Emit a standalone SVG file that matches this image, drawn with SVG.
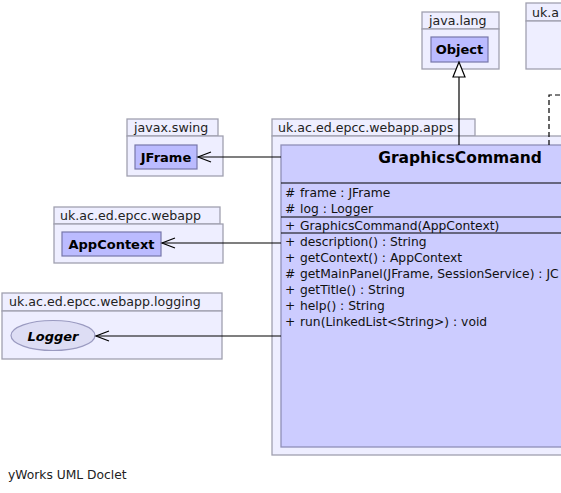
<svg xmlns="http://www.w3.org/2000/svg" width="561" height="493" viewBox="0 0 561 493">
<style>
.pkg{fill:#eeeeff;stroke:#a0a0b0;stroke-width:1.3}
.cls{fill:#bbbbff;stroke:#7777aa;stroke-width:1.2}
.big{fill:#ccccff;stroke:#9090b8;stroke-width:1.3}
.pl{font-family:"DejaVu Sans",sans-serif;font-size:12.6px;fill:#222}
.cn{font-family:"DejaVu Sans",sans-serif;font-size:13px;font-weight:bold;fill:#000;text-anchor:middle}
.mb{font-family:"DejaVu Sans",sans-serif;font-size:12.3px;fill:#111}
.ln{stroke:#000;stroke-width:1.2;fill:none}
</style>
<rect width="561" height="493" fill="#fff"/>
<g id="pkg-java-lang">
<rect class="pkg" x="422" y="12" width="77" height="17"/>
<rect class="pkg" x="422" y="29" width="77" height="40"/>
<text class="pl" x="429" y="25">java.lang</text>
</g>
<g id="Object">
<rect class="cls" x="431" y="37" width="57" height="25"/>
<text class="cn" x="459.500" y="54">Object</text>
</g>
<g id="pkg-uk-a">
<rect class="pkg" x="526" y="3" width="40" height="18"/>
<rect class="pkg" x="526" y="21" width="40" height="48"/>
<text class="pl" x="532" y="17">uk.a</text>
</g>
<g id="pkg-javax-swing">
<rect class="pkg" x="127" y="119" width="91" height="17"/>
<rect class="pkg" x="127" y="136" width="96" height="40"/>
<text class="pl" x="134" y="132">javax.swing</text>
</g>
<g id="JFrame">
<rect class="cls" x="135" y="145" width="62" height="24"/>
<text class="cn" x="166" y="162">JFrame</text>
</g>
<g id="pkg-webapp">
<rect class="pkg" x="54" y="207" width="166" height="17"/>
<rect class="pkg" x="54" y="224" width="169" height="39"/>
<text class="pl" x="60" y="220">uk.ac.ed.epcc.webapp</text>
</g>
<g id="AppContext">
<rect class="cls" x="62" y="232" width="99" height="24"/>
<text class="cn" x="111.500" y="248.500">AppContext</text>
</g>
<g id="pkg-logging">
<rect class="pkg" x="2" y="293" width="220" height="18"/>
<rect class="pkg" x="2" y="311" width="220" height="48"/>
<text class="pl" x="9" y="306">uk.ac.ed.epcc.webapp.logging</text>
</g>
<g id="Logger">
<ellipse cx="53" cy="335.500" rx="42" ry="15" fill="#ddddf4" stroke="#9a9ac0" stroke-width="1.2"/>
<text class="cn" x="53" y="340.500" font-style="italic">Logger</text>
</g>
<g id="pkg-apps">
<rect class="pkg" x="272" y="119" width="203" height="17"/>
<rect class="pkg" x="272" y="136" width="300" height="319"/>
<text class="pl" x="278" y="132">uk.ac.ed.epcc.webapp.apps</text>
</g>
<g id="GraphicsCommand">
<rect class="big" x="281" y="145" width="290" height="302"/>
<text x="460" y="163" font-family="DejaVu Sans,sans-serif" font-size="15.500" font-weight="bold" text-anchor="middle" fill="#000">GraphicsCommand</text>
<line class="ln" x1="281" y1="183" x2="561" y2="183"/>
<line class="ln" x1="281" y1="217" x2="561" y2="217"/>
<line class="ln" x1="281" y1="233" x2="561" y2="233"/>
<text class="mb" x="285" y="197">#</text><text class="mb" x="300" y="197">frame : JFrame</text>
<text class="mb" x="285" y="213">#</text><text class="mb" x="300" y="213">log : Logger</text>
<text class="mb" x="285" y="229.500">+</text><text class="mb" x="300" y="229.500">GraphicsCommand(AppContext)</text>
<text class="mb" x="285" y="246">+</text><text class="mb" x="300" y="246">description() : String</text>
<text class="mb" x="285" y="262">+</text><text class="mb" x="300" y="262">getContext() : AppContext</text>
<text class="mb" x="285" y="278">#</text><text class="mb" x="300" y="278">getMainPanel(JFrame, SessionService) : JC</text>
<text class="mb" x="285" y="294">+</text><text class="mb" x="300" y="294">getTitle() : String</text>
<text class="mb" x="285" y="310">+</text><text class="mb" x="300" y="310">help() : String</text>
<text class="mb" x="285" y="326">+</text><text class="mb" x="300" y="326">run(LinkedList&lt;String&gt;) : void</text>
</g>
<g id="connectors">
<line class="ln" x1="459" y1="145" x2="459" y2="77"/>
<polygon points="459,62 453,77 465,77" fill="#fff" stroke="#000" stroke-width="1.2"/>
<polyline class="ln" points="549,145 549,95 561,95" stroke-dasharray="5,3"/>
<line class="ln" x1="281" y1="157" x2="198" y2="157"/>
<polyline class="ln" points="211,152 198,157 211,162"/>
<line class="ln" x1="281" y1="243" x2="162" y2="243"/>
<polyline class="ln" points="175,238 162,243 175,248"/>
<line class="ln" x1="281" y1="336" x2="96" y2="336"/>
<polyline class="ln" points="109,331 96,336 109,341"/>
</g>
<text x="8" y="479" font-family="DejaVu Sans,sans-serif" font-size="12.300" fill="#222">yWorks UML Doclet</text>
</svg>
